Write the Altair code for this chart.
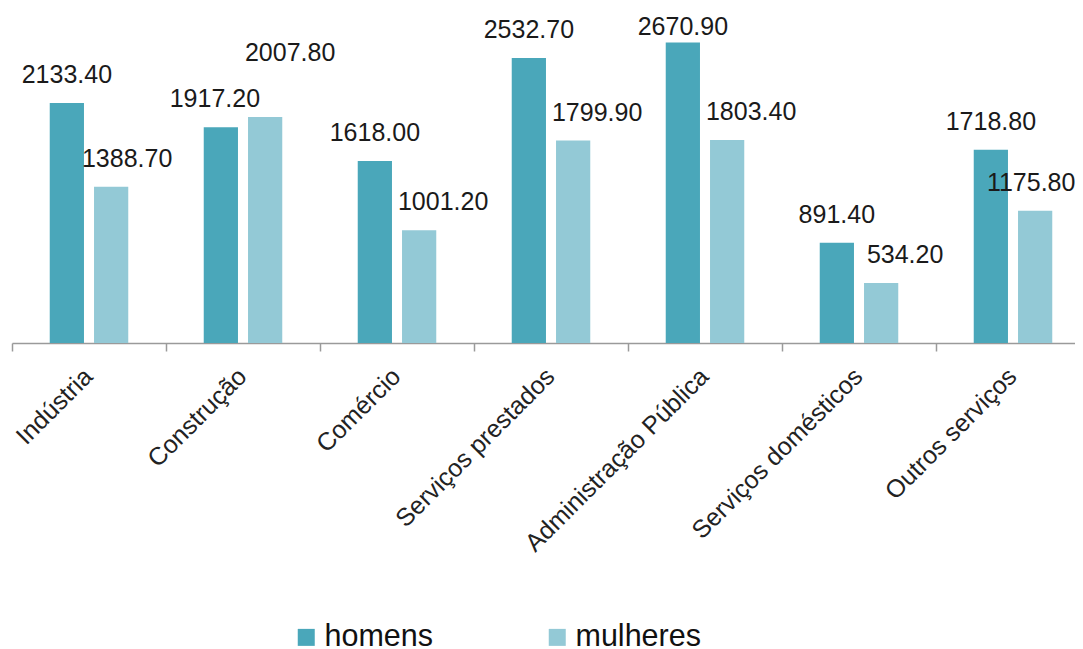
import altair as alt
import pandas as pd

categorias = ["Indústria", "Construção", "Comércio", "Serviços prestados",
              "Administração Pública", "Serviços domésticos", "Outros serviços"]
homens = [2133.40, 1917.20, 1618.00, 2532.70, 2670.90, 891.40, 1718.80]
mulheres = [1388.70, 2007.80, 1001.20, 1799.90, 1803.40, 534.20, 1175.80]
series = ["homens", "mulheres"]
cores = ["#4AA7BA", "#93C9D6"]

rows = []
for c, h, m in zip(categorias, homens, mulheres):
    rows.append({"Categoria": c, "Sexo": "homens", "Valor": h})
    rows.append({"Categoria": c, "Sexo": "mulheres", "Valor": m})
df = pd.DataFrame(rows)

FONT = "Liberation Sans"

x_enc = alt.X("Categoria:N", sort=categorias,
              scale=alt.Scale(paddingInner=0, paddingOuter=0, range=[0, 1078]),
              axis=alt.Axis(title=None, labelAngle=-45, labelAlign="right",
                            labelBaseline="middle", labelFontSize=25,
                            labelFont=FONT, labelColor="#222222",
                            labelPadding=21, labelOffset=-1, labelLimit=0,
                            tickBand="extent", tickSize=8, tickWidth=1.5,
                            tickColor="#9a9a9a", domainColor="#9a9a9a",
                            domainWidth=1.5, grid=False))
xo_enc = alt.XOffset("Sexo:N", sort=series,
                     scale=alt.Scale(domain=series, paddingInner=0.227,
                                     paddingOuter=0.852))
y_enc = alt.Y("Valor:Q", scale=alt.Scale(domain=[0, 2800], nice=False, zero=True),
              axis=None)

base = alt.Chart(df)

bars = base.mark_bar().encode(
    x=x_enc,
    xOffset=xo_enc,
    y=y_enc,
    color=alt.Color("Sexo:N", sort=series,
                    scale=alt.Scale(domain=series, range=cores),
                    legend=alt.Legend(title=None, orient="none", direction="horizontal",
                                      legendX=279, legendY=594, padding=0,
                                      symbolType="square", symbolSize=289,
                                      symbolStrokeWidth=0, labelFontSize=30.5,
                                      labelFont=FONT, labelColor="#111111",
                                      labelOffset=3, columnPadding=108)),
)


def labels(expr, dx, dy):
    return base.transform_filter(expr).mark_text(
        dx=dx, dy=dy, baseline="alphabetic", align="center",
        fontSize=25, font=FONT, color="#1a1a1a"
    ).encode(
        x=x_enc,
        xOffset=xo_enc,
        y=y_enc,
        text=alt.Text("Valor:Q", format=".2f"),
    )


layers = [
    bars,
    labels("datum.Sexo == 'homens' && datum.Categoria != 'Construção' && datum.Categoria != 'Administração Pública'", 0, -20),
    labels("datum.Sexo == 'homens' && datum.Categoria == 'Construção'", -6, -20),
    labels("datum.Sexo == 'homens' && datum.Categoria == 'Administração Pública'", 0, -8),
    labels("datum.Sexo == 'mulheres' && datum.Categoria != 'Indústria' && datum.Categoria != 'Construção' && datum.Categoria != 'Outros serviços'", 24, -20),
    labels("datum.Sexo == 'mulheres' && datum.Categoria == 'Indústria'", 16, -20),
    labels("datum.Sexo == 'mulheres' && datum.Categoria == 'Construção'", 25, -56),
    labels("datum.Sexo == 'mulheres' && datum.Categoria == 'Outros serviços'", -4, -20),
]

chart = alt.layer(*layers).properties(
    width=1063, height=315,
    padding={"left": 4, "top": 20, "right": 0, "bottom": 316},
    autosize=alt.AutoSizeParams(type="none"),
    background="white",
).configure_view(stroke=None)

chart.save("out.html", embed_options={"renderer": "svg", "actions": False})
